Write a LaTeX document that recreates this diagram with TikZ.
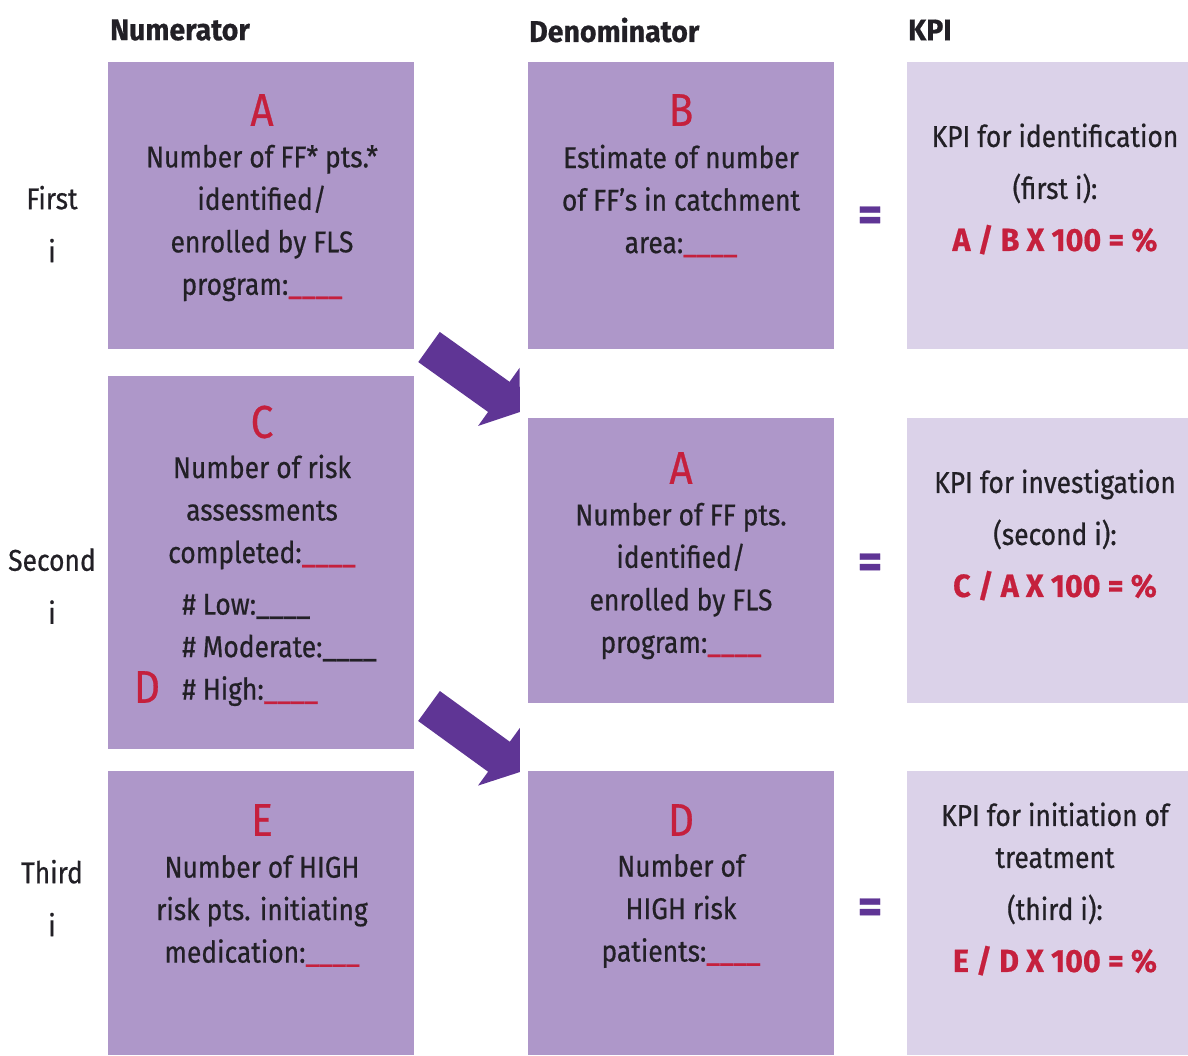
\documentclass[tikz,border=0pt]{standalone}
\usepackage{fontspec}
\setmainfont{Fira Sans}[FakeStretch=0.88, FakeBold=0.6, BoldFeatures={FakeStretch=0.95}]
\usetikzlibrary{positioning, calc, arrows.meta}

\definecolor{boxpurple}{RGB}{174,151,201}
\definecolor{kpililac}{RGB}{219,210,233}
\definecolor{arrowpurple}{RGB}{95,53,149}
\definecolor{kpired}{RGB}{197,32,61}
\definecolor{inkgray}{RGB}{34,32,38}

\newcommand{\redblank}{\textcolor{kpired}{\_\_\_\_}}
\newcommand{\darkblank}{\_\_\_\_}
\newcommand{\kpiform}[1]{{\fontsize{32}{52}\selectfont\bfseries\textcolor{kpired}{#1}}}

\tikzset{
  numbox/.style={fill=boxpurple, anchor=north west, minimum width=306pt, inner sep=0pt},
  kpibox/.style={fill=kpililac, anchor=north west, minimum width=281pt, inner sep=0pt},
  bodytext/.style={text=inkgray, align=center, inner sep=0pt, font=\fontsize{30}{42.5}\selectfont},
  kpitext/.style={text=inkgray, align=center, inner sep=0pt, font=\fontsize{30}{52}\selectfont},
  letter/.style={text=kpired, inner sep=0pt, font=\fontsize{46}{46}\selectfont},
  header/.style={text=inkgray, anchor=west, inner sep=0pt, font=\fontsize{30}{36}\selectfont\bfseries},
  rowlabel/.style={text=inkgray, align=center, inner sep=0pt, font=\fontsize{30}{53}\selectfont},
  equal/.style={text=arrowpurple, inner sep=0pt, font=\fontsize{50}{50}\selectfont\bfseries},
  fatarrow/.style={arrowpurple, line width=37pt, -{Triangle[width=70pt,length=26pt]}},
}

\begin{document}
\begin{tikzpicture}[x=1pt, y=-1pt]
  \useasboundingbox (0,0) rectangle (1188,1055);

  % 見出し
  \node[header] (hnum) at (110,30) {Numerator};
  \node[header] (hden) at (529,30) {Denominator};
  \node[header] (hkpi) at (908,30) {KPI};

  % 行ラベル
  \node[rowlabel] (rfirst) at (52,224) {First\\i};
  \node[rowlabel] (rsecond) at (52,586) {Second\\i};
  \node[rowlabel] (rthird) at (52,898) {Third\\i};

  % 第1行
  \node[numbox, minimum height=287pt] (boxA) at (108,62) {};
  \node[letter] (letA) at (262,110) {A};
  \node[bodytext] (txtA) at (262,223) {Number of FF* pts.*\\identified/\\enrolled by FLS\\program:\redblank};
  \node[numbox, minimum height=287pt] (boxB) at (528,62) {};
  \node[letter] (letB) at (681,110) {B};
  \node[bodytext] (txtB) at (681,201) {Estimate of number\\of FF's in catchment\\area:\redblank};
  \node[equal] (eq1) at (870,219) {=};
  \node[kpibox, minimum height=287pt] (kpi1) at (907,62) {};
  \node[kpitext] (kpitxt1) at (1055,189) {KPI for identification\\(first i):\\\kpiform{A / B X 100 = \%}};

  % 第2行
  \node[numbox, minimum height=373pt] (boxC) at (108,376) {};
  \node[letter] (letC) at (262,422) {C};
  \node[bodytext] (txtC) at (262,512) {Number of risk\\assessments\\completed:\redblank};
  \node[bodytext, align=left, anchor=west] (lstC) at (182,650) {\#~Low:\darkblank\\\#~Moderate:\darkblank\\\#~High:\redblank};
  \node[letter] (letD1) at (147,687) {D};
  \node[numbox, minimum height=285pt] (boxA2) at (528,418) {};
  \node[letter] (letA2) at (681,468) {A};
  \node[bodytext] (txtA2) at (681,581) {Number of FF pts.\\identified/\\enrolled by FLS\\program:\redblank};
  \node[equal] (eq2) at (870,566) {=};
  \node[kpibox, minimum height=285pt] (kpi2) at (907,418) {};
  \node[kpitext] (kpitxt2) at (1055,535) {KPI for investigation\\(second i):\\\kpiform{C / A X 100 = \%}};

  % 第3行
  \node[numbox, minimum height=284pt] (boxE) at (108,771) {};
  \node[letter] (letE) at (262,820) {E};
  \node[bodytext] (txtE) at (262,911) {Number of HIGH\\risk pts. initiating\\medication:\redblank};
  \node[numbox, minimum height=284pt] (boxD) at (528,771) {};
  \node[letter] (letD2) at (681,820) {D};
  \node[bodytext] (txtD) at (681,911) {Number of\\HIGH risk\\patients:\redblank};
  \node[equal] (eq3) at (870,911) {=};
  \node[kpibox, minimum height=284pt] (kpi3) at (907,771) {};
  \node[kpitext] (kpitxt3) at (1055,889) {KPI for initiation of\\[-10pt]treatment\\(third i):\\\kpiform{E / D X 100 = \%}};

  % 矢印
  \coordinate (arr1s) at (429,347);
  \coordinate (arr1e) at (520,412);
  \draw[fatarrow] (arr1s) -- (arr1e);
  \coordinate (arr2s) at (429,706);
  \coordinate (arr2e) at (520,772);
  \draw[fatarrow] (arr2s) -- (arr2e);
\end{tikzpicture}
\end{document}
